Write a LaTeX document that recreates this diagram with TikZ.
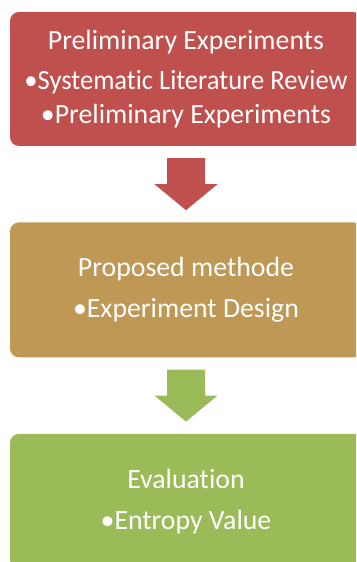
\documentclass[tikz,border=0pt]{standalone}
\usepackage{fontspec}
\setmainfont[Ligatures=NoCommon]{Carlito}
\usepackage{tikz}
\usetikzlibrary{positioning,calc}

\definecolor{stagered}{HTML}{C0504D}
\definecolor{stagegold}{HTML}{BE9854}
\definecolor{stagegreen}{HTML}{9BBB59}

\tikzset{
    stagebox/.style={rounded corners=9pt, minimum width=352pt, minimum height=134pt,
        align=center, text=white, inner sep=0pt,
        font=\fontsize{27.8}{33.4}\selectfont},
}

% block arrow below box #1, coloured #2
\newcommand{\stagearrow}[2]{%
    \fill[#2] ($(#1.south)+(-19,-12)$) -- ($(#1.south)+(19,-12)$)
        -- ($(#1.south)+(19,-38)$) -- ($(#1.south)+(31.5,-38)$)
        -- ($(#1.south)+(0,-64)$) -- ($(#1.south)+(-31.5,-38)$)
        -- ($(#1.south)+(-19,-38)$) -- cycle;}

\begin{document}
\begin{tikzpicture}[x=1pt,y=1pt]
            \clip (0,0) rectangle (356,562);

            % stages
            \node[stagebox, fill=stagered] (prelim) at (186,483)
                {Preliminary Experiments\\[6.6pt]\scalebox{0.955}[1]{•Systematic Literature Review}\\•Preliminary Experiments};
            \node[stagebox, fill=stagegold, minimum height=135pt, below=76pt of prelim] (method)
                {Proposed methode\\[7.6pt]•Experiment Design};
            \node[stagebox, fill=stagegreen, minimum height=135pt, below=76pt of method] (eval)
                {Evaluation\\[7.6pt]•Entropy Value};

            % arrows between stages
            \stagearrow{prelim}{stagered}
            \stagearrow{method}{stagegreen}
        \end{tikzpicture}
\end{document}
